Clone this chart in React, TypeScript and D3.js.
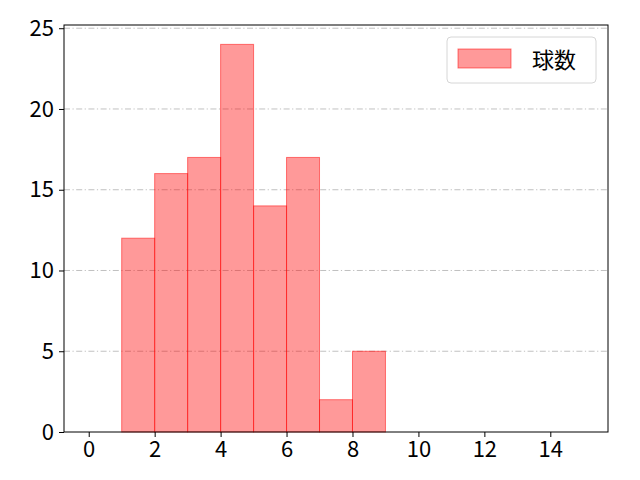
import { useEffect, useRef } from 'react'
import * as d3 from 'd3'

// histogram bins (start of each bin, width 1) and counts
const binStarts = [1, 2, 3, 4, 5, 6, 7, 8]
const counts = [12, 16, 17, 24, 14, 17, 2, 5]
const xTicks = [0, 2, 4, 6, 8, 10, 12, 14]
const yTicks = [0, 5, 10, 15, 20, 25]
const seriesName = '球数'

export default function App() {
  const svgRef = useRef<SVGSVGElement>(null)

  useEffect(() => {
    if (!svgRef.current) return
    const svg = d3.select(svgRef.current)
    svg.selectAll('*').remove()

    const width = 640
    const height = 480
    const margin = { top: 25, right: 32, bottom: 48, left: 64 }
    const font = '"Noto Sans CJK JP", "DejaVu Sans", sans-serif'

    const x = d3.scaleLinear().domain([-0.75, 15.75]).range([margin.left, width - margin.right])
    const y = d3.scaleLinear().domain([0, 25.2]).range([height - margin.bottom, margin.top])

    svg.append('rect').attr('width', width).attr('height', height).attr('fill', '#fff')

    // grid
    svg.append('g')
      .selectAll('line')
      .data(yTicks.filter(t => t > 0))
      .enter()
      .append('line')
      .attr('x1', x.range()[0])
      .attr('x2', x.range()[1])
      .attr('y1', d => y(d))
      .attr('y2', d => y(d))
      .attr('stroke', '#b0b0b0')
      .attr('stroke-width', 0.8)
      .attr('stroke-dasharray', '6,2.5,1.2,2.5')

    // bars
    svg.append('g')
      .selectAll('rect')
      .data(binStarts.map((s, i) => ({ s, v: counts[i] })))
      .enter()
      .append('rect')
      .attr('x', d => x(d.s))
      .attr('width', d => x(d.s + 1) - x(d.s))
      .attr('y', d => y(d.v))
      .attr('height', d => y(0) - y(d.v))
      .attr('fill', 'rgba(255,0,0,0.4)')
      .attr('stroke', 'rgba(255,0,0,0.5)')
      .attr('stroke-width', 1)

    // frame
    svg.append('rect')
      .attr('x', x.range()[0])
      .attr('y', y.range()[1])
      .attr('width', x.range()[1] - x.range()[0])
      .attr('height', y.range()[0] - y.range()[1])
      .attr('fill', 'none')
      .attr('stroke', '#000')
      .attr('stroke-width', 1)

    // x axis
    const xa = svg.append('g')
      .attr('transform', `translate(0,${y(0)})`)
      .call(d3.axisBottom(x).tickValues(xTicks).tickSize(5).tickPadding(4).tickFormat(d3.format('d')))
    xa.select('.domain').remove()
    xa.selectAll('text').style('font-size', '22px').style('font-family', font).attr('fill', '#000')

    // y axis
    const ya = svg.append('g')
      .attr('transform', `translate(${x.range()[0]},0)`)
      .call(d3.axisLeft(y).tickValues(yTicks).tickSize(5).tickPadding(5).tickFormat(d3.format('d')))
    ya.select('.domain').remove()
    ya.selectAll('text').style('font-size', '22px').style('font-family', font).attr('fill', '#000')

    // legend
    const lg = svg.append('g').attr('transform', 'translate(447,37)')
    lg.append('rect')
      .attr('width', 149)
      .attr('height', 46)
      .attr('rx', 4)
      .attr('fill', 'rgba(255,255,255,0.8)')
      .attr('stroke', '#d6d6d6')
    lg.append('rect')
      .attr('x', 11)
      .attr('y', 12)
      .attr('width', 53)
      .attr('height', 19)
      .attr('fill', 'rgba(255,0,0,0.4)')
      .attr('stroke', 'rgba(255,0,0,0.5)')
    lg.append('text')
      .attr('x', 85)
      .attr('y', 23)
      .attr('dy', '0.36em')
      .style('font-size', '22px')
      .style('font-family', font)
      .text(seriesName)
  }, [])

  return <svg ref={svgRef} width={640} height={480} style={{ display: 'block', margin: -8 }} />
}
